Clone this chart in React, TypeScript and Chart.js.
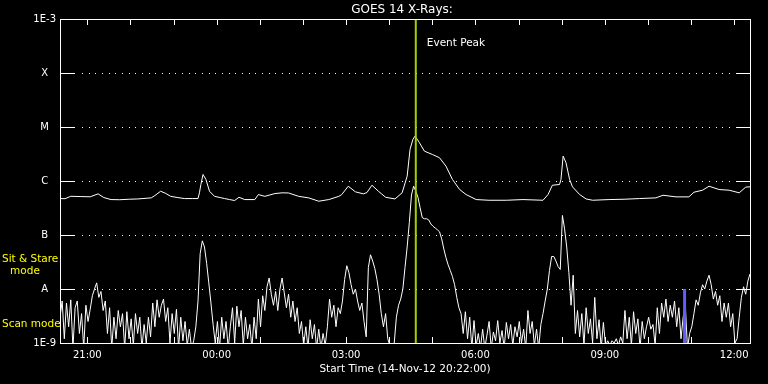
import React, { useEffect, useRef } from "react";
import { Chart, registerables } from "chart.js";

Chart.register(...registerables);

const TITLE = "GOES 14 X-Rays:";
const X_TITLE = "Start Time (14-Nov-12 20:22:00)";
const START_TIME = "20:22";
const END_TIME = "12:22";
const X_TICK_HOURS = [21, 24, 27, 30, 33, 36];
const Y_TICK_VALUES = [1e-9, 1e-8, 1e-7, 1e-6, 1e-5, 1e-4, 1e-3];
const Y_TICK_LABELS = ["1E-9", "A", "B", "C", "M", "X", "1E-3"];
const GRID_VALUES = [1e-8, 1e-7, 1e-6, 1e-5, 1e-4];
const EVENT_PEAK_TIME = "04:37";
const EVENT_LABEL = "Event Peak";
const MODE_CHANGE_TIME = "10:51";
const MODE_CHANGE_RANGE = [1e-9, 1e-8];
const MODE_LABELS = ["Sit & Stare", "mode", "Scan mode"];

// Long channel (upper curve)
const LONG_TIMES = [
  "20:22","20:29","20:37","20:50","21:04","21:15","21:23","21:33","21:45","21:59",
  "22:10","22:29","22:34","22:42","22:49","22:56","23:06","23:15","23:26","23:34",
  "23:36","23:38","23:41","23:45","23:50","23:57","00:05","00:11","00:18","00:25",
  "00:31","00:39","00:53","00:58","01:07","01:21","01:31","01:40","01:54","02:08",
  "02:22","02:36","02:50","02:54","03:03","03:13","03:24","03:29","03:36","03:45",
  "03:55","04:08","04:18","04:25","04:29","04:33","04:36","04:42","04:49","05:00",
  "05:10","05:19","05:28","05:38","05:47","06:01","06:19","06:43","07:06","07:34",
  "07:41","07:47","07:57","07:59","08:02","08:06","08:11","08:15","08:25","08:34",
  "08:43","09:06","09:28","09:48","10:11","10:21","10:39","10:57","11:04","11:16",
  "11:25","11:39","11:53","12:07","12:16","12:22",
];
const LONG_FLUX = [
  4.73e-7,4.7e-7,5.21e-7,5.15e-7,5.1e-7,5.78e-7,4.93e-7,4.53e-7,4.5e-7,4.6e-7,
  4.65e-7,4.87e-7,5.38e-7,6.46e-7,5.9e-7,5.2e-7,4.93e-7,4.73e-7,4.73e-7,4.73e-7,
  6.04e-7,8.61e-7,1.32e-6,1.07e-6,6.46e-7,5.2e-7,4.93e-7,4.73e-7,4.53e-7,4.35e-7,
  5.0e-7,4.53e-7,4.53e-7,5.61e-7,5.2e-7,5.85e-7,6.04e-7,6.0e-7,5.2e-7,4.87e-7,
  4.22e-7,4.53e-7,5.2e-7,5.61e-7,8.0e-7,6.3e-7,5.78e-7,6.1e-7,8.35e-7,6.46e-7,
  5.0e-7,4.65e-7,6.04e-7,1.23e-6,3.85e-6,5.9e-6,6.79e-6,5.13e-6,3.57e-6,3.1e-6,
  2.7e-6,1.88e-6,1.07e-6,6.95e-7,5.61e-7,4.53e-7,4.4e-7,4.4e-7,4.53e-7,4.4e-7,
  5.61e-7,8.35e-7,8.61e-7,1.07e-6,2.89e-6,2.18e-6,1.07e-6,7.8e-7,5.61e-7,4.65e-7,
  4.4e-7,4.53e-7,4.6e-7,4.73e-7,4.87e-7,5.45e-7,5.08e-7,5.08e-7,6.2e-7,6.75e-7,
  8.0e-7,6.95e-7,6.75e-7,6.04e-7,7.7e-7,7.8e-7,
];

// Short channel (lower curve), one reading every 3 minutes from 20:22
const SHORT_STEP_MIN = 3;
const SHORT_FLUX = [
  3.0e-9,6.0e-9,1.2e-9,5.5e-9,2.0e-9,6.3e-9,8e-10,4.5e-9,6.0e-9,1.5e-9,
  3.5e-9,8e-10,5.0e-9,2.5e-9,4.2e-9,7.5e-9,1.0e-8,1.3e-8,7.0e-9,9.0e-9,
  4.0e-9,6.0e-9,1.5e-9,4.5e-9,8e-10,3.0e-9,1.2e-9,4.0e-9,2.0e-9,3.5e-9,
  8e-10,3.8e-9,1.2e-9,2.8e-9,9e-10,3.5e-9,1.5e-9,3.0e-9,8e-10,2.2e-9,
  1.0e-9,3.0e-9,1.3e-9,5.5e-9,2.0e-9,6.3e-9,3.0e-9,5.0e-9,6.5e-9,2.5e-9,
  4.5e-9,1.0e-9,3.5e-9,1.5e-9,4.2e-9,8e-10,3.0e-9,1.1e-9,2.5e-9,9e-10,
  1.8e-9,8e-10,1.1e-9,2.0e-9,6.0e-9,4.5e-8,7.8e-8,6.0e-8,3.0e-8,1.3e-8,
  5.5e-9,2.2e-9,1.0e-9,2.5e-9,8e-10,3.0e-9,1.2e-9,2.5e-9,8e-10,2.0e-9,
  4.5e-9,1.0e-9,4.8e-9,2.0e-9,4.0e-9,9e-10,3.0e-9,1.2e-9,2.2e-9,8e-10,
  3.0e-9,1.2e-9,6.5e-9,2.0e-9,7.5e-9,4.0e-9,1.1e-8,1.6e-8,8.0e-9,5.0e-9,
  9.0e-9,4.0e-9,1.0e-8,1.6e-8,8.5e-9,4.5e-9,8.0e-9,3.0e-9,6.0e-9,2.5e-9,
  4.5e-9,1.5e-9,2.5e-9,9e-10,2.0e-9,8e-10,2.7e-9,1.2e-9,2.2e-9,8e-10,
  1.8e-9,8e-10,1.5e-9,9e-10,2.0e-9,6.5e-9,3.0e-9,5.0e-9,2.0e-9,4.5e-9,
  3.5e-9,6.0e-9,1.5e-8,2.7e-8,2.0e-8,1.2e-8,8.0e-9,1.0e-8,6.0e-9,4.0e-9,
  5.5e-9,2.5e-9,1.3e-9,2.5e-8,4.3e-8,3.3e-8,2.4e-8,1.5e-8,8.0e-9,3.5e-9,
  2.0e-9,3.5e-9,1.2e-9,9e-10,8e-10,1.0e-9,3.0e-9,5.0e-9,6.5e-9,1.0e-8,
  2.5e-8,6.0e-8,1.7e-7,5.5e-7,8.0e-7,6.5e-7,5.0e-7,3.2e-7,2.1e-7,2.0e-7,
  2.0e-7,1.9e-7,1.6e-7,1.45e-7,1.35e-7,1.25e-7,1.15e-7,8.5e-8,5.5e-8,3.8e-8,
  2.8e-8,2.2e-8,1.7e-8,1.2e-8,7.0e-9,4.5e-9,3.5e-9,1.5e-9,3.8e-9,1.2e-9,
  3.0e-9,8e-10,2.6e-9,9e-10,1.5e-9,8e-10,1.8e-9,8e-10,1.4e-9,2.5e-9,
  8e-10,1.6e-9,1.1e-9,2.6e-9,1.0e-9,1.7e-9,8e-10,2.4e-9,1.2e-9,2.2e-9,
  9e-10,2.0e-9,1.3e-9,2.5e-9,1.0e-9,1.8e-9,8e-10,4.0e-9,1.5e-9,2.5e-9,
  9e-10,1.8e-9,8e-10,2.2e-9,3.5e-9,6.0e-9,1.0e-8,2.2e-8,4.0e-8,4.0e-8,
  3.3e-8,2.6e-8,2.3e-8,2.3e-7,1.3e-7,6.0e-8,2.0e-8,5.0e-9,1.8e-8,1.5e-9,
  4.0e-9,1.3e-9,3.5e-9,9e-10,4.5e-9,1.5e-9,2.8e-9,1.0e-9,7.0e-9,1.2e-9,
  2.7e-9,8e-10,2.4e-9,9e-10,1.1e-9,9e-10,1.1e-9,1.0e-9,1.2e-9,9e-10,
  1.3e-9,1.0e-9,4.0e-9,1.2e-9,3.0e-9,9e-10,3.8e-9,1.5e-9,2.8e-9,8e-10,
  2.5e-9,1.2e-9,2.0e-9,3.0e-9,1.8e-9,2.2e-9,9e-10,4.5e-9,1.5e-9,5.5e-9,
  3.0e-9,6.5e-9,2.5e-9,5.0e-9,3.0e-9,6.0e-9,2.0e-9,4.5e-9,1.2e-9,3.0e-9,
  5.0e-9,8e-10,1.5e-9,2.0e-9,3.5e-9,6.3e-9,5.0e-9,8.5e-9,1.2e-8,1.0e-8,
  1.4e-8,1.8e-8,1.2e-8,6.5e-9,9.0e-9,5.0e-9,7.5e-9,2.5e-9,5.5e-9,3.0e-9,
  5.5e-9,2.0e-9,3.5e-9,1.0e-9,1.2e-9,3.0e-9,7.0e-9,1.1e-8,8.0e-9,1.4e-8,
  1.9e-8,
];

const FONT = "DejaVu Sans";

function toHours(t: string): number {
  const [h, m] = t.split(":").map(Number);
  let v = h + m / 60;
  if (v < 20) v += 24;
  return v;
}

const framePlugin = {
  id: "goesFrame",
  beforeDatasetsDraw(chart: any) {
    const { ctx, chartArea, scales } = chart;
    const { left, right } = chartArea;
    const y = scales.y;
    ctx.save();
    ctx.fillStyle = "#ffffff";
    ctx.strokeStyle = "#ffffff";
    ctx.lineWidth = 1;
    GRID_VALUES.forEach((v) => {
      const py = Math.round(y.getPixelForValue(v));
      ctx.beginPath();
      ctx.moveTo(left, py + 0.5);
      ctx.lineTo(left + 15, py + 0.5);
      ctx.moveTo(right - 14, py + 0.5);
      ctx.lineTo(right, py + 0.5);
      ctx.stroke();
      for (let px = left + 22; px < right - 18; px += 6.67) {
        ctx.fillRect(Math.round(px), py, 1, 1);
      }
    });
    ctx.restore();
  },
  afterDraw(chart: any) {
    const { ctx, chartArea, scales } = chart;
    const { left, right, top, bottom } = chartArea;
    const x = scales.x;
    ctx.save();
    ctx.strokeStyle = "#ffffff";
    ctx.lineWidth = 1;
    ctx.strokeRect(left + 0.5, top + 0.5, right - left, bottom - top);
    // hourly ticks on top and bottom
    const h0 = Math.ceil(toHours(START_TIME));
    const h1 = Math.floor(toHours(END_TIME));
    ctx.beginPath();
    for (let h = h0; h <= h1; h++) {
      const px = Math.round(x.getPixelForValue(h)) + 0.5;
      ctx.moveTo(px, top);
      ctx.lineTo(px, top + 6);
      ctx.moveTo(px, bottom);
      ctx.lineTo(px, bottom - 6);
    }
    ctx.stroke();

    ctx.fillStyle = "#ffffff";
    ctx.textBaseline = "middle";
    ctx.textAlign = "center";
    ctx.font = `12px '${FONT}'`;
    ctx.fillText(TITLE, 402, 10);
    ctx.font = `10.5px '${FONT}'`;
    ctx.fillText(X_TITLE, 405, 369);
    ctx.textAlign = "left";
    const peakX = x.getPixelForValue(toHours(EVENT_PEAK_TIME));
    ctx.fillText(EVENT_LABEL, peakX + 11, 43);

    ctx.fillStyle = "#ffff00";
    ctx.font = `10.5px '${FONT}'`;
    ctx.fillText(MODE_LABELS[0], 2, 259);
    ctx.textAlign = "center";
    ctx.fillText(MODE_LABELS[1], 25, 271);
    ctx.textAlign = "left";
    ctx.fillText(MODE_LABELS[2], 2, 324);
    ctx.restore();
  },
};

export default function App() {
  const canvasRef = useRef<HTMLCanvasElement | null>(null);

  useEffect(() => {
    const canvas = canvasRef.current;
    if (!canvas) return;
    const startH = toHours(START_TIME);
    const endH = toHours(END_TIME);
    const peakH = toHours(EVENT_PEAK_TIME);
    const modeH = toHours(MODE_CHANGE_TIME);

    const chart = new Chart(canvas, {
      type: "line",
      data: {
        datasets: [
          {
            label: "Event Peak",
            data: [
              { x: peakH, y: Y_TICK_VALUES[0] },
              { x: peakH, y: Y_TICK_VALUES[Y_TICK_VALUES.length - 1] },
            ],
            borderColor: "#a0d000",
            borderWidth: 2,
            pointRadius: 0,
          },
          {
            label: "Mode change",
            data: [
              { x: modeH, y: MODE_CHANGE_RANGE[0] },
              { x: modeH, y: MODE_CHANGE_RANGE[1] },
            ],
            borderColor: "#5f5fff",
            borderWidth: 3,
            pointRadius: 0,
          },
          {
            label: "1-8 A",
            data: LONG_TIMES.map((t, i) => ({ x: toHours(t), y: LONG_FLUX[i] })),
            borderColor: "#ffffff",
            borderWidth: 1,
            pointRadius: 0,
            tension: 0,
          },
          {
            label: "0.5-4 A",
            data: SHORT_FLUX.map((v, i) => ({ x: startH + (i * SHORT_STEP_MIN) / 60, y: v })),
            borderColor: "#ffffff",
            borderWidth: 1,
            pointRadius: 0,
            tension: 0,
          },
        ],
      },
      options: {
        animation: false,
        responsive: false,
        devicePixelRatio: 1,
        events: [],
        layout: { padding: { top: 19, right: 18, left: 0, bottom: 0 } },
        plugins: {
          legend: { display: false },
          tooltip: { enabled: false },
          title: { display: false },
        },
        scales: {
          x: {
            type: "linear",
            min: startH,
            max: endH,
            grid: { display: false, drawTicks: false },
            border: { display: false },
            ticks: {
              color: "#ffffff",
              font: { family: FONT, size: 10 },
              padding: 6,
              maxRotation: 0,
              autoSkip: false,
              callback: (v: any) => `${String(Number(v) % 24).padStart(2, "0")}:00`,
            },
            afterBuildTicks: (s: any) => {
              s.ticks = X_TICK_HOURS.map((v) => ({ value: v }));
            },
            afterFit: (s: any) => {
              s.height = 41;
            },
          },
          y: {
            type: "logarithmic",
            min: Y_TICK_VALUES[0],
            max: Y_TICK_VALUES[Y_TICK_VALUES.length - 1],
            grid: { display: false, drawTicks: false },
            border: { display: false },
            ticks: {
              color: "#ffffff",
              font: { family: FONT, size: 10 },
              padding: 4,
              crossAlign: "center",
              autoSkip: false,
              callback: (_v: any, i: number) => Y_TICK_LABELS[i],
            },
            afterBuildTicks: (s: any) => {
              s.ticks = Y_TICK_VALUES.map((v) => ({ value: v }));
            },
            afterFit: (s: any) => {
              s.width = 60;
            },
          },
        },
      },
      plugins: [framePlugin],
    } as any);

    return () => chart.destroy();
  }, []);

  return (
    <div style={{ position: "fixed", left: 0, top: 0, width: 768, height: 384, background: "#000" }}>
      <canvas ref={canvasRef} width={768} height={384} style={{ display: "block" }} />
    </div>
  );
}
